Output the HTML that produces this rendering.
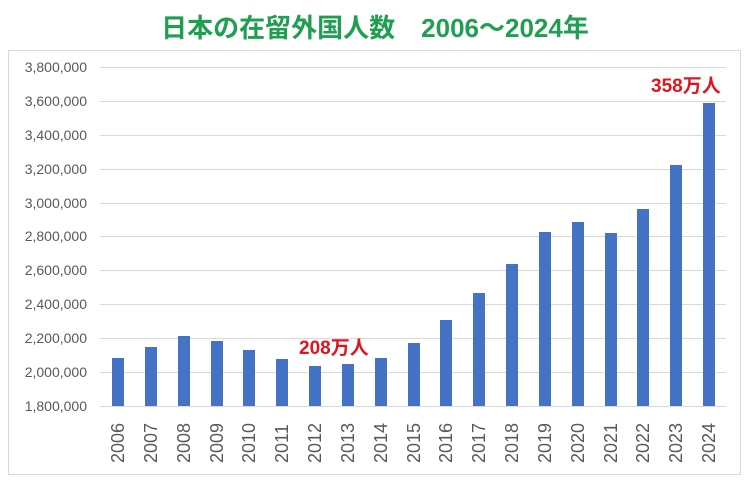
<!DOCTYPE html>
<html><head><meta charset="utf-8"><style>
body{margin:0;background:#fff;}
svg{display:block;}
</style></head><body>
<svg width="750" height="483" xmlns="http://www.w3.org/2000/svg" font-family="Liberation Sans, Noto Sans CJK JP, sans-serif">
<rect width="750" height="483" fill="#fff"/>
<text x="375" y="37" text-anchor="middle" font-size="26" font-weight="bold" fill="#1fa050" font-family="Liberation Sans, Noto Sans CJK JP, sans-serif">日本の在留外国人数　2006〜2024年</text>
<rect x="8.5" y="50.5" width="732" height="424" fill="none" stroke="#d9d9d9"/>
<g stroke="#d9d9d9" stroke-width="1">
<line x1="100" x2="726" y1="67.5" y2="67.5"/><line x1="100" x2="726" y1="101.5" y2="101.5"/>
<line x1="100" x2="726" y1="135.5" y2="135.5"/><line x1="100" x2="726" y1="169.5" y2="169.5"/>
<line x1="100" x2="726" y1="203.5" y2="203.5"/><line x1="100" x2="726" y1="236.5" y2="236.5"/>
<line x1="100" x2="726" y1="270.5" y2="270.5"/><line x1="100" x2="726" y1="304.5" y2="304.5"/>
<line x1="100" x2="726" y1="338.5" y2="338.5"/><line x1="100" x2="726" y1="372.5" y2="372.5"/>
<line x1="100" x2="726" y1="406.5" y2="406.5"/>
</g>
<g font-size="14" fill="#595959" text-anchor="end">
<text x="87" y="72">3,800,000</text><text x="87" y="106">3,600,000</text><text x="87" y="140">3,400,000</text>
<text x="87" y="174">3,200,000</text><text x="87" y="208">3,000,000</text><text x="87" y="241">2,800,000</text>
<text x="87" y="275">2,600,000</text><text x="87" y="309">2,400,000</text><text x="87" y="343">2,200,000</text>
<text x="87" y="377">2,000,000</text><text x="87" y="411">1,800,000</text>
</g>
<g fill="#4472c4">
<rect x="112" y="358" width="12" height="48"/><rect x="145" y="347" width="12" height="59"/>
<rect x="178" y="336" width="12" height="70"/><rect x="211" y="341" width="12" height="65"/>
<rect x="243" y="350" width="12" height="56"/><rect x="276" y="359" width="12" height="47"/>
<rect x="309" y="366" width="12" height="40"/><rect x="342" y="364" width="12" height="42"/>
<rect x="375" y="358" width="12" height="48"/><rect x="408" y="343" width="12" height="63"/>
<rect x="440" y="320" width="12" height="86"/><rect x="473" y="293" width="12" height="113"/>
<rect x="506" y="264" width="12" height="142"/><rect x="539" y="232" width="12" height="174"/>
<rect x="572" y="222" width="12" height="184"/><rect x="605" y="233" width="12" height="173"/>
<rect x="637" y="209" width="12" height="197"/><rect x="670" y="165" width="12" height="241"/>
<rect x="703" y="103" width="12" height="303"/>
</g>
<g font-size="18" fill="#595959">
<text transform="translate(124,463) rotate(-90)">2006</text><text transform="translate(157,463) rotate(-90)">2007</text>
<text transform="translate(190,463) rotate(-90)">2008</text><text transform="translate(223,463) rotate(-90)">2009</text>
<text transform="translate(255,463) rotate(-90)">2010</text><text transform="translate(288,463) rotate(-90)">2011</text>
<text transform="translate(321,463) rotate(-90)">2012</text><text transform="translate(354,463) rotate(-90)">2013</text>
<text transform="translate(387,463) rotate(-90)">2014</text><text transform="translate(420,463) rotate(-90)">2015</text>
<text transform="translate(452,463) rotate(-90)">2016</text><text transform="translate(485,463) rotate(-90)">2017</text>
<text transform="translate(518,463) rotate(-90)">2018</text><text transform="translate(551,463) rotate(-90)">2019</text>
<text transform="translate(584,463) rotate(-90)">2020</text><text transform="translate(617,463) rotate(-90)">2021</text>
<text transform="translate(649,463) rotate(-90)">2022</text><text transform="translate(682,463) rotate(-90)">2023</text>
<text transform="translate(715,463) rotate(-90)">2024</text>
</g>
<g font-size="19" font-weight="bold" fill="#e0141e">
<text x="299" y="354">208万人</text>
<text x="651" y="92">358万人</text>
</g>
</svg>
</body></html>
